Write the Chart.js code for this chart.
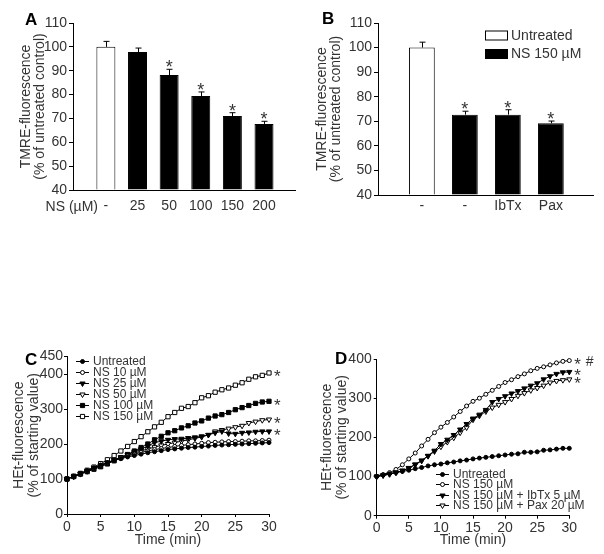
<!DOCTYPE html>
<html>
<head>
<meta charset="utf-8">
<script src="https://cdn.jsdelivr.net/npm/chart.js@4"></script>
<style>
body { margin: 0; background: #fff; }
#wrap { position: relative; width: 604px; height: 554px; }
canvas { position: absolute; }
</style>
</head>
<body>
<div id="wrap">
  <canvas id="chartA" width="302" height="277" style="left:0;top:0"></canvas>
  <canvas id="chartB" width="302" height="277" style="left:302px;top:0"></canvas>
  <canvas id="chartC" width="302" height="254" style="left:0;top:300px"></canvas>
  <canvas id="chartD" width="302" height="254" style="left:302px;top:300px"></canvas>
</div>
<script>
// Panel A - TMRE, NS dose response
const labelsA = ['-', '25', '50', '100', '150', '200'];
const valuesA = [100, 97.8, 88.2, 79.4, 71, 67.7];
const errorsA = [2.3, 1.7, 2.4, 1.7, 1.4, 1.1];
const starsA = ['', '', '*', '*', '*', '*'];
const fillsA = ['#fff', '#000', '#000', '#000', '#000', '#000'];

// Panel B - TMRE, blockers
const labelsB = ['-', '-', 'IbTx', 'Pax'];
const valuesB = [100, 72.7, 72.7, 69.2];
const errorsB = [2.2, 1.4, 2.0, 0.9];
const starsB = ['', '*', '*', '*'];
const fillsB = ['#fff', '#000', '#000', '#000'];
const legendB = ['Untreated', 'NS 150 µM'];

// Panels C and D - HEt time course
const minutes = [0, 1, 2, 3, 4, 5, 6, 7, 8, 9, 10, 11, 12, 13, 14, 15, 16, 17, 18, 19, 20, 21, 22, 23, 24, 25, 26, 27, 28, 29, 30];

const namesC = ['Untreated', 'NS 10 µM', 'NS 25 µM', 'NS 50 µM', 'NS 100 µM', 'NS 150 µM'];
const untreatedC = [100, 108, 116, 124, 132, 140, 147, 153, 158, 163, 167, 171, 175, 178, 181, 184, 186, 188, 190, 191, 193, 194, 196, 197, 198, 199, 200, 201, 202, 203, 204];
const ns10C = [100, 107, 115, 123, 131, 139, 146, 153, 160, 166, 171, 176, 180, 184, 187, 190, 193, 196, 198, 200, 202, 204, 205, 206, 207, 207, 208, 209, 209, 210, 211];
const ns25C = [100, 107, 115, 123, 131, 139, 147, 155, 162, 170, 177, 185, 194, 204, 208, 212, 214, 215, 217, 219, 222, 226, 232, 236, 230, 229, 232, 233, 235, 236, 236];
const ns50C = [100, 107, 114, 122, 130, 138, 146, 154, 161, 168, 174, 180, 186, 191, 196, 200, 204, 208, 212, 216, 220, 226, 236, 240, 244, 248, 252, 260, 264, 268, 270];
const ns100C = [100, 107, 114, 121, 128, 135, 143, 152, 161, 170, 180, 190, 200, 212, 222, 232, 238, 246, 252, 260, 266, 274, 280, 284, 290, 298, 304, 310, 316, 320, 322];
const ns150C = [100, 108, 116, 125, 134, 144, 155, 167, 180, 193, 207, 221, 235, 249, 262, 278, 290, 302, 307, 318, 332, 338, 348, 355, 360, 368, 375, 385, 392, 396, 403];
const marksC = ['', '', '*', '*', '*', '*'];
const yTicksC = [0, 100, 200, 300, 400, 450];

const namesD = ['Untreated', 'NS 150 µM', 'NS 150 µM + IbTx 5 µM', 'NS 150 µM + Pax 20 µM'];
const untreatedD = [100, 104, 107, 110, 113, 116, 120, 123, 127, 130, 132, 135, 137, 140, 142, 145, 147, 149, 151, 153, 155, 157, 158, 162, 162, 163, 167, 168, 170, 172, 172];
const ns150D = [100, 105, 110, 118, 130, 145, 160, 178, 195, 212, 226, 238, 252, 266, 280, 292, 300, 310, 320, 330, 340, 347, 355, 362, 370, 376, 380, 385, 390, 394, 396];
const ibtxD = [100, 103, 106, 110, 115, 122, 131, 141, 153, 166, 183, 194, 206, 220, 234, 248, 258, 270, 290, 298, 305, 312, 318, 325, 332, 338, 348, 356, 362, 366, 367];
const paxD = [100, 103, 106, 110, 115, 121, 130, 140, 152, 164, 176, 188, 199, 212, 225, 245, 255, 266, 276, 283, 290, 298, 306, 313, 320, 326, 332, 340, 344, 346, 348];
const marksD = ['', '* #', '*', '*'];
const yTicksD = [0, 100, 200, 300, 400];

const FONT = '"Liberation Sans", Arial, sans-serif';
const TXT = '#333';
Chart.defaults.font.family = FONT;
Chart.defaults.color = TXT;

// draw a marker by hand (used for the legends)
function drawMarker(ctx, style, filled, x, y, r) {
    ctx.beginPath();
    if (style === 'circle') {
        ctx.arc(x, y, r, 0, Math.PI * 2);
    } else if (style === 'rect') {
        ctx.rect(x - r * 0.7, y - r * 0.7, r * 1.4, r * 1.4);
    } else {
        ctx.moveTo(x - r * 0.87, y - r * 0.5);
        ctx.lineTo(x + r * 0.87, y - r * 0.5);
        ctx.lineTo(x, y + r);
        ctx.closePath();
    }
    ctx.fillStyle = filled ? '#000' : '#fff';
    ctx.fill();
    ctx.stroke();
}

// error bars and asterisks over the bars
function barExtras(errors, stars) {
    return {
        id: 'barExtras',
        afterDatasetsDraw(chart) {
            const ctx = chart.ctx;
            const y = chart.scales.y;
            const pts = chart.data.datasets[0].data;
            ctx.save();
            ctx.strokeStyle = '#000';
            ctx.lineWidth = 1;
            ctx.fillStyle = TXT;
            ctx.font = '18px ' + FONT;
            ctx.textAlign = 'center';
            chart.getDatasetMeta(0).data.forEach((bar, i) => {
                const top = y.getPixelForValue(pts[i].y + errors[i]);
                const x = Math.round(bar.x) + 0.5;
                ctx.beginPath();
                ctx.moveTo(x, bar.y);
                ctx.lineTo(x, top);
                ctx.moveTo(x - 3, top);
                ctx.lineTo(x + 3, top);
                ctx.stroke();
                if (stars[i]) ctx.fillText(stars[i], bar.x, top + 4);
            });
            ctx.restore();
        }
    };
}

// free text: panel letters and extra labels
function texts(items) {
    return {
        id: 'texts',
        afterDraw(chart) {
            const ctx = chart.ctx;
            ctx.save();
            items.forEach(t => {
                ctx.font = t.font;
                ctx.fillStyle = t.color || TXT;
                ctx.textAlign = t.align || 'left';
                ctx.textBaseline = t.base || 'alphabetic';
                ctx.fillText(t.text, t.x, t.y);
            });
            ctx.restore();
        }
    };
}

function barLegend(names, fills, x, y0, step) {
    return {
        id: 'barLegend',
        afterDraw(chart) {
            const ctx = chart.ctx;
            ctx.save();
            ctx.font = '14px ' + FONT;
            ctx.textBaseline = 'middle';
            names.forEach((n, i) => {
                const y = y0 + i * step;
                ctx.fillStyle = fills[i];
                ctx.fillRect(x + 0.5, y - 4.5, 22, 9);
                ctx.strokeStyle = '#000';
                ctx.strokeRect(x + 0.5, y - 4.5, 22, 9);
                ctx.fillStyle = TXT;
                ctx.fillText(n, x + 26, y + 0.5);
            });
            ctx.restore();
        }
    };
}

function lineLegend(x, y0, step) {
    return {
        id: 'lineLegend',
        afterDraw(chart) {
            const ctx = chart.ctx;
            ctx.save();
            ctx.font = '12px ' + FONT;
            ctx.textBaseline = 'middle';
            ctx.strokeStyle = '#000';
            ctx.lineWidth = 1;
            chart.data.datasets.forEach((ds, i) => {
                const y = Math.round(y0 + i * step) + 0.5;
                ctx.beginPath();
                ctx.moveTo(x, y);
                ctx.lineTo(x + 13, y);
                ctx.stroke();
                drawMarker(ctx, ds.pointStyle, ds.pointBackgroundColor === '#000', x + 6.5, y, ds.pointRadius);
                ctx.fillStyle = TXT;
                ctx.fillText(ds.label, x + 17, y);
            });
            ctx.restore();
        }
    };
}

// asterisks after the last point of each curve
function endMarks(marks) {
    return {
        id: 'endMarks',
        afterDatasetsDraw(chart) {
            const ctx = chart.ctx;
            ctx.save();
            ctx.fillStyle = TXT;
            ctx.font = '17px ' + FONT;
            chart.data.datasets.forEach((ds, i) => {
                if (!marks[i]) return;
                const meta = chart.getDatasetMeta(i);
                const last = meta.data[meta.data.length - 1];
                let x = last.x + 5;
                marks[i].split('').forEach(c => {
                    if (c === '*') ctx.fillText(c, x, last.y + 9.5);
                    else if (c === '#') { ctx.font = '14px ' + FONT; ctx.fillText(c, x, last.y + 5); ctx.font = '17px ' + FONT; }
                    x += ctx.measureText(c).width;
                });
            });
            ctx.restore();
        }
    };
}

function barChart(id, labels, values, fills, opt) {
    return new Chart(document.getElementById(id), {
        type: 'bar',
        data: {
            datasets: [{
                data: values.map((v, i) => ({ x: i, y: v })),
                backgroundColor: fills,
                borderColor: '#000',
                borderWidth: 1,
                base: 40,
                barPercentage: 0.6,
                categoryPercentage: 1
            }]
        },
        options: {
            responsive: false,
            animation: false,
            layout: { padding: { top: opt.top, right: opt.right, left: 0, bottom: 0 } },
            plugins: { legend: { display: false }, tooltip: { enabled: false } },
            scales: {
                x: {
                    type: 'linear',
                    min: opt.xmin,
                    max: opt.xmax,
                    offset: false,
                    grid: { display: false, drawTicks: false },
                    border: { display: true, color: '#000' },
                    afterBuildTicks: s => { s.ticks = labels.map((l, i) => ({ value: i })); },
                    ticks: { callback: v => labels[v], font: { size: 14 }, padding: opt.xpad, maxRotation: 0, autoSkip: false },
                    afterFit: s => { s.height = opt.xh; }
                },
                y: {
                    min: 40,
                    max: 110,
                    ticks: { stepSize: 10, font: { size: 14 }, padding: 2 },
                    grid: { drawOnChartArea: false, tickLength: 4, color: '#000' },
                    border: { color: '#000' },
                    title: {
                        display: true,
                        text: ['TMRE-fluorescence', '(% of untreated control)'],
                        font: { size: 14, lineHeight: '14px' },
                        padding: { top: opt.tpad, bottom: 0 }
                    },
                    afterFit: s => { s.width = opt.yw; }
                }
            }
        },
        plugins: opt.plugins
    });
}

function lineChart(id, names, series, styles, ymax, yticks, opt) {
    return new Chart(document.getElementById(id), {
        type: 'line',
        data: {
            datasets: series.map((vals, i) => ({
                label: names[i],
                data: vals.map((v, j) => ({ x: minutes[j], y: v })),
                borderColor: '#000',
                borderWidth: 1,
                pointStyle: styles[i][0],
                pointRotation: styles[i][0] === 'triangle' ? 180 : 0,
                pointRadius: styles[i][0] === 'circle' ? 2 : 3,
                pointBackgroundColor: styles[i][1] ? '#000' : '#fff',
                pointBorderColor: '#000',
                pointBorderWidth: 1,
                fill: false,
                tension: 0,
                clip: false
            }))
        },
        options: {
            responsive: false,
            animation: false,
            layout: { padding: { top: opt.top, right: opt.right, left: 0, bottom: 0 } },
            plugins: { legend: { display: false }, tooltip: { enabled: false } },
            scales: {
                x: {
                    type: 'linear',
                    min: 0,
                    max: 30,
                    ticks: { stepSize: 5, font: { size: 14 }, padding: opt.xpad, maxRotation: 0 },
                    grid: { drawOnChartArea: false, tickLength: 3, color: '#000' },
                    border: { color: '#000' },
                    title: { display: true, text: 'Time (min)', font: { size: 14 }, padding: { top: 0, bottom: 5 } },
                    afterFit: s => { s.height = opt.xh; }
                },
                y: {
                    min: 0,
                    max: ymax,
                    afterBuildTicks: s => { s.ticks = yticks.map(v => ({ value: v })); },
                    ticks: { font: { size: 14 }, padding: opt.ypad },
                    grid: { drawOnChartArea: false, tickLength: 3, color: '#000' },
                    border: { color: '#000' },
                    title: {
                        display: true,
                        text: ['HEt-fluorescence', '(% of starting value)'],
                        font: { size: 14, lineHeight: '15px' },
                        padding: { top: opt.tpad, bottom: 0 }
                    },
                    afterFit: s => { s.width = opt.yw; }
                }
            }
        },
        plugins: opt.plugins
    });
}

const bold = 'bold 17px ' + FONT;

barChart('chartA', labelsA, valuesA, fillsA, {
    top: 23, right: 7, yw: 73, xh: 87, xmin: -1.04, xmax: 5.98, xpad: 8, tpad: 19,
    plugins: [barExtras(errorsA, starsA), texts([
        { text: 'A', x: 25, y: 25, font: bold, color: '#000' },
        { text: 'NS (µM)', x: 98, y: 207, font: '14px ' + FONT, align: 'right', base: 'middle' }
    ])]
});

barChart('chartB', labelsB, valuesB, fillsB, {
    top: 23, right: 11, yw: 76, xh: 82, xmin: -1.02, xmax: 3.98, xpad: 3, tpad: 13,
    plugins: [barExtras(errorsB, starsB), barLegend(legendB, fillsB.slice(0, 2), 183, 35.5, 18.5), texts([
        { text: 'B', x: 20, y: 24, font: bold, color: '#000' }
    ])]
});

lineChart('chartC', namesC, [untreatedC, ns10C, ns25C, ns50C, ns100C, ns150C],
    [['circle', true], ['circle', false], ['triangle', true], ['triangle', false], ['rect', true], ['rect', false]],
    450, yTicksC, {
        top: 56.5, right: 33, yw: 67, xh: 40, xpad: 2, ypad: 1, tpad: 11.5,
        plugins: [lineLegend(76, 60.5, 11), endMarks(marksC), texts([
            { text: 'C', x: 25, y: 65, font: bold, color: '#000' }
        ])]
    });

lineChart('chartD', namesD, [untreatedD, ns150D, ibtxD, paxD],
    [['circle', true], ['circle', false], ['triangle', true], ['triangle', false]],
    400, yTicksD, {
        top: 59, right: 34.7, yw: 74.7, xh: 38.3, xpad: 1, ypad: 2, tpad: 18,
        plugins: [lineLegend(134, 174, 10.4), endMarks(marksD), texts([
            { text: 'D', x: 33, y: 63.5, font: bold, color: '#000' }
        ])]
    });
</script>
</body>
</html>
